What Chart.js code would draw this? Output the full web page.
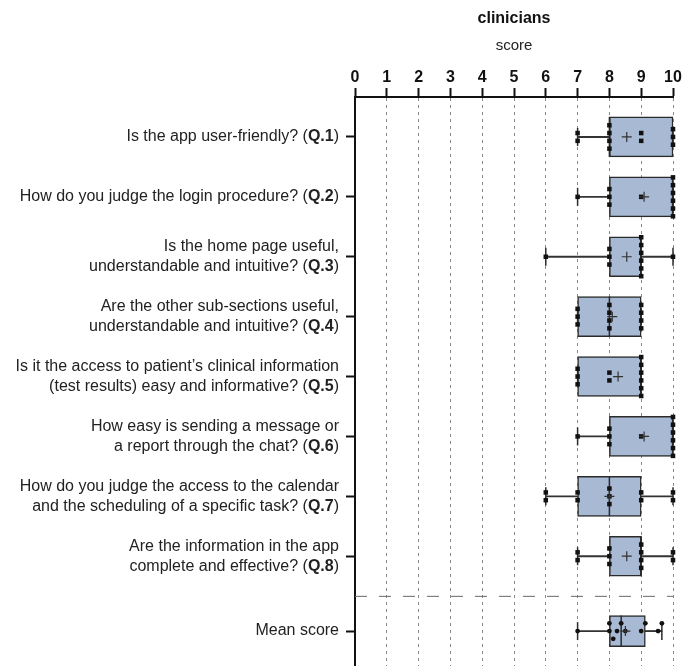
<!DOCTYPE html>
<html>
<head>
<meta charset="utf-8">
<script src="https://cdn.jsdelivr.net/npm/chart.js@4.4.1/dist/chart.umd.min.js"></script>
<style>
  html, body { margin: 0; padding: 0; background: #fff; overflow: hidden; }
  canvas { display: block; }
</style>
</head>
<body>
<canvas id="myChart" width="695" height="666"></canvas>
<script>
/*-- data --*/
const questionLines = [
  ["Is the app user-friendly?"],
  ["How do you judge the login procedure?"],
  ["Is the home page useful,", "understandable and intuitive?"],
  ["Are the other sub-sections useful,", "understandable and intuitive?"],
  ["Is it the access to patient\u2019s clinical information", "(test results) easy and informative?"],
  ["How easy is sending a message or", "a report through the chat?"],
  ["How do you judge the access to the calendar", "and the scheduling of a specific task?"],
  ["Are the information in the app", "complete and effective?"]
];
const questionCodes = ["Q.1", "Q.2", "Q.3", "Q.4", "Q.5", "Q.6", "Q.7", "Q.8"];
const meanLabel = "Mean score";

const q1Scores = [7, 7, 8, 8, 8, 8, 9, 9, 10, 10, 10];
const q2Scores = [7, 8, 8, 8, 9, 10, 10, 10, 10, 10, 10];
const q3Scores = [6, 8, 8, 8, 9, 9, 9, 9, 9, 9, 10];
const q4Scores = [7, 7, 7, 8, 8, 8, 8, 9, 9, 9, 9];
const q5Scores = [7, 7, 7, 8, 8, 9, 9, 9, 9, 9, 9];
const q6Scores = [7, 8, 8, 8, 9, 10, 10, 10, 10, 10, 10];
const q7Scores = [6, 6, 7, 7, 8, 8, 8, 9, 9, 10, 10];
const q8Scores = [7, 7, 8, 8, 8, 9, 9, 9, 9, 10, 10];
const meanScores = [7.0, 8.0, 8.0, 8.12, 8.24, 8.37, 8.5, 9.0, 9.13, 9.53, 9.65];

const scoreTicks = [0, 1, 2, 3, 4, 5, 6, 7, 8, 9, 10];

/*-- layout of the rows (row units on the y scale) --*/
const questionRows = [1, 2, 3, 4, 5, 6, 7, 8];
const meanRow = 9.25;
const separatorRow = 8.67;
const dotStep = 0.13;

const FONT = "'Liberation Sans', Arial, Helvetica, sans-serif";
const BOX_FILL = "#a7b9d3";
const INK = "#222";

const allQuestions = [q1Scores, q2Scores, q3Scores, q4Scores, q5Scores, q6Scores, q7Scores, q8Scores];

function quantile(values, p) {
  const s = values.slice().sort((a, b) => a - b);
  let pos = (s.length + 1) * p;
  pos = Math.min(Math.max(pos, 1), s.length);
  const lo = Math.floor(pos), hi = Math.ceil(pos);
  return s[lo - 1] + (pos - lo) * (s[hi - 1] - s[lo - 1]);
}
function stats(values) {
  return {
    min: Math.min(...values),
    max: Math.max(...values),
    q1: quantile(values, 0.25),
    med: quantile(values, 0.5),
    q3: quantile(values, 0.75),
    mean: values.reduce((a, b) => a + b, 0) / values.length
  };
}

// equal scores stacked on top of each other, centred on the row
function stackedDots(scores, rowY) {
  const counts = {};
  scores.forEach(s => counts[s] = (counts[s] || 0) + 1);
  const seen = {};
  return scores.map(s => {
    seen[s] = seen[s] === undefined ? 0 : seen[s] + 1;
    return { x: s, y: rowY + (seen[s] - (counts[s] - 1) / 2) * dotStep };
  });
}
// little beeswarm for the mean scores
function swarmDots(scores, rowY) {
  const placed = [];
  const xToRow = 0.53;
  scores.slice().sort((a, b) => a - b).forEach(s => {
    for (const k of [0, -1, 1, -2, 2]) {
      const y = rowY + k * dotStep;
      const ok = placed.every(p => Math.hypot((p.x - s) * xToRow, p.y - y) >= dotStep * 0.9);
      if (ok) { placed.push({ x: s, y }); break; }
    }
  });
  return placed;
}

const qStats = allQuestions.map(stats);
const mStats = stats(meanScores);
const rowsStats = qStats.concat([mStats]);
const rowsY = questionRows.concat([meanRow]);

let whiskerData = [], capData = [], medianData = [], medianRadius = [], meanData = [];
rowsStats.forEach((st, i) => {
  const y = rowsY[i];
  whiskerData.push({ x: [st.min, st.q1], y }, { x: [st.q3, st.max], y });
  capData.push({ x: st.min, y }, { x: st.max, y });
  medianData.push({ x: st.med, y });
  medianRadius.push(i < questionRows.length ? 20 : 15.5);
  meanData.push({ x: st.mean, y });
});

let questionDots = [];
allQuestions.forEach((sc, i) => { questionDots = questionDots.concat(stackedDots(sc, questionRows[i])); });
const meanDots = swarmDots(meanScores, meanRow);

/*-- question labels with the bold code --*/
const rowLabels = {
  id: "rowLabels",
  afterDraw(chart) {
    const ctx = chart.ctx;
    const yScale = chart.scales.y;
    const right = 339;
    const lineGap = 20;
    const normal = "16px " + FONT, bold = "bold 16px " + FONT;
    ctx.save();
    ctx.textBaseline = "middle";
    ctx.textAlign = "left";
    ctx.fillStyle = INK;
    const drawRow = (lines, code, value) => {
      const cy = yScale.getPixelForValue(value);
      lines.forEach((line, li) => {
        const y = cy + (li - (lines.length - 1) / 2) * lineGap;
        let parts = [[line, normal]];
        if (code && li === lines.length - 1) parts = [[line + " (", normal], [code, bold], [")", normal]];
        let w = 0;
        parts.forEach(p => { ctx.font = p[1]; w += ctx.measureText(p[0]).width; });
        let x = right - w;
        parts.forEach(p => { ctx.font = p[1]; ctx.fillText(p[0], x, y); x += ctx.measureText(p[0]).width; });
      });
    };
    questionLines.forEach((lines, i) => drawRow(lines, questionCodes[i], questionRows[i]));
    drawRow([meanLabel], null, meanRow);
    ctx.restore();
  }
};

const barCommon = { type: "bar", indexAxis: "y", grouped: false, borderSkipped: false, clip: false };

new Chart(document.getElementById("myChart"), {
  type: "bar",
  data: {
    datasets: [
      Object.assign({}, barCommon, {
        label: "boxes",
        data: qStats.map((st, i) => ({ x: [st.q1, st.q3], y: questionRows[i] })),
        backgroundColor: BOX_FILL, borderColor: "#2b2b2b", borderWidth: 1.5,
        barThickness: 40, order: 10
      }),
      Object.assign({}, barCommon, {
        label: "mean box",
        data: [{ x: [mStats.q1, mStats.q3], y: meanRow }],
        backgroundColor: BOX_FILL, borderColor: "#2b2b2b", borderWidth: 1.5,
        barThickness: 31, order: 10
      }),
      Object.assign({}, barCommon, {
        label: "whiskers",
        data: whiskerData,
        backgroundColor: "#333", borderWidth: 0,
        barThickness: 1.2, order: 11
      }),
      {
        type: "scatter", label: "medians", data: medianData, clip: false,
        pointStyle: "line", pointRotation: 90, pointRadius: medianRadius,
        borderColor: "#2b2b2b", borderWidth: 1.5, order: 9
      },
      {
        type: "scatter", label: "caps", data: capData, clip: false,
        pointStyle: "line", pointRotation: 90, pointRadius: 9,
        borderColor: "#2b2b2b", borderWidth: 1.5, order: 8
      },
      {
        type: "line", label: "separator", clip: false,
        data: [{ x: scoreTicks[0], y: separatorRow }, { x: scoreTicks[scoreTicks.length - 1], y: separatorRow }],
        borderColor: "#6a6a6a", borderWidth: 1, borderDash: [12, 12], pointRadius: 0, order: 7
      },
      {
        type: "scatter", label: "scores", data: questionDots, clip: false,
        pointStyle: "rect", pointRadius: 3.2,
        backgroundColor: "#111", borderWidth: 0, order: 2
      },
      {
        type: "scatter", label: "mean scores", data: meanDots, clip: false,
        pointStyle: "circle", pointRadius: 2.4,
        backgroundColor: "#111", borderWidth: 0, order: 2
      },
      {
        type: "scatter", label: "means", data: meanData, clip: false,
        pointStyle: "cross", pointRadius: 5,
        borderColor: "#333", borderWidth: 1.2, order: 1
      }
    ]
  },
  options: {
    responsive: false,
    animation: false,
    events: [],
    layout: { autoPadding: false, padding: { top: 0, right: 22, bottom: 0, left: 0 } },
    plugins: {
      legend: { display: false },
      tooltip: { enabled: false },
      title: {
        display: true, text: "clinicians", fullSize: false,
        color: "#111", font: { family: FONT, size: 16, weight: "bold" },
        padding: { top: 9, bottom: 8.6 }
      }
    },
    scales: {
      x: {
        type: "linear", position: "top", min: 0, max: 10, offset: false,
        afterBuildTicks: s => { s.ticks = scoreTicks.map(v => ({ value: v })); },
        ticks: { color: "#111", padding: 1, font: { family: FONT, size: 16, weight: "bold" } },
        grid: { offset: false, color: "#8a8a8a", lineWidth: 1, tickColor: "#111", tickWidth: 2, tickLength: 9 },
        border: { color: "#111", width: 2, dash: [3, 4] },
        title: { display: true, text: "score", color: INK, font: { family: FONT, size: 15 }, padding: { top: 0, bottom: 12 } }
      },
      y: {
        type: "linear", reverse: true, min: 0.333, max: 9.833, offset: false,
        afterBuildTicks: s => { s.ticks = rowsY.map(v => ({ value: v })); },
        afterFit: s => { s.width = 355; },
        ticks: { display: false },
        grid: { offset: false, drawOnChartArea: false, tickColor: "#111", tickWidth: 2, tickLength: 9 },
        border: { color: "#111", width: 2 }
      }
    }
  },
  plugins: [rowLabels]
});
</script>
</body>
</html>
